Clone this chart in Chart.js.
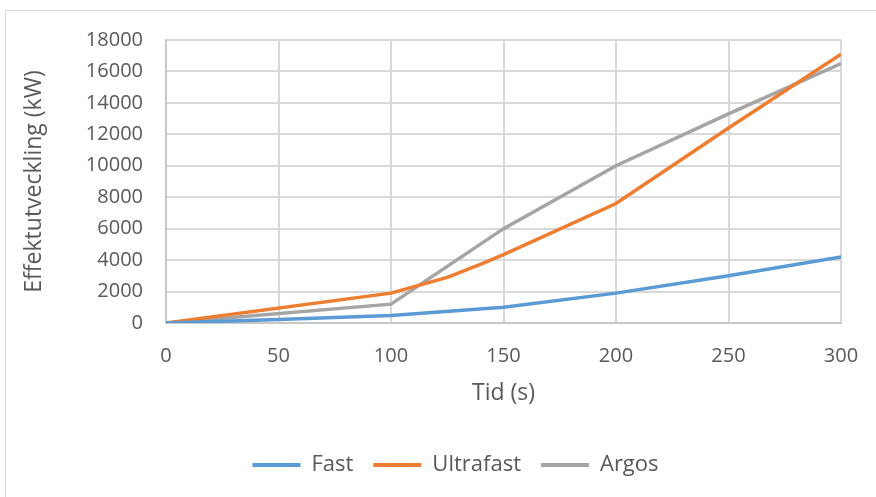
<!DOCTYPE html>
<html>
<head>
<meta charset="utf-8">
<script src="https://cdn.jsdelivr.net/npm/chart.js@4/dist/chart.umd.min.js"></script>
<style>
  html, body { margin: 0; padding: 0; background: #ffffff; }
  #wrap { width: 876px; height: 497px; position: relative; }
</style>
</head>
<body>
<div id="wrap"><canvas id="c" width="876" height="497"></canvas></div>
<script>
// Tid (s) och effektutveckling (kW) per brandförlopp
const fastTime = [0, 50, 100, 150, 200, 250, 300];
const fastPower = [0, 220, 480, 1000, 1900, 3000, 4200];

const ultrafastTime = [0, 100, 125, 140, 150, 200, 250, 300];
const ultrafastPower = [0, 1900, 2900, 3750, 4350, 7600, 12400, 17100];

const argosTime = [0, 100, 150, 200, 250, 300];
const argosPower = [0, 1200, 6000, 10000, 13300, 16500];

const xTicks = [0, 50, 100, 150, 200, 250, 300];
const yTicks = [0, 2000, 4000, 6000, 8000, 10000, 12000, 14000, 16000, 18000];

const seriesNames = ['Fast', 'Ultrafast', 'Argos'];
const seriesColors = ['#5B9BD5', '#ED7D31', '#A5A5A5'];

const toPoints = (xs, ys) => xs.map((x, i) => ({ x: x, y: ys[i] }));

const textColor = '#595959';
const fontFamily = '"Open Sans", "Noto Sans", sans-serif';

// Light outer frame around the whole chart
const framePlugin = {
  id: 'frame',
  beforeDraw(chart) {
    const ctx = chart.ctx;
    ctx.save();
    ctx.strokeStyle = '#d9d9d9';
    ctx.lineWidth = 1;
    ctx.strokeRect(5.5, 10.5, chart.width + 20, chart.height + 20);
    ctx.restore();
  }
};

const lineStyle = (i) => ({
  label: seriesNames[i],
  borderColor: seriesColors[i],
  backgroundColor: seriesColors[i],
  borderWidth: 3.5,
  pointRadius: 0,
  tension: 0,
  fill: false
});

new Chart(document.getElementById('c'), {
  type: 'line',
  data: {
    datasets: [
      Object.assign(lineStyle(0), { data: toPoints(fastTime, fastPower) }),
      Object.assign(lineStyle(1), { data: toPoints(ultrafastTime, ultrafastPower) }),
      Object.assign(lineStyle(2), { data: toPoints(argosTime, argosPower) })
    ]
  },
  options: {
    responsive: false,
    animation: false,
    devicePixelRatio: 1,
    layout: { padding: { top: 40, right: 35, left: 70, bottom: 11 } },
    plugins: {
      tooltip: { enabled: false },
      legend: {
        position: 'bottom',
        labels: {
          boxWidth: 48,
          boxHeight: 4,
          padding: 20,
          color: textColor,
          font: { family: fontFamily, size: 22 },
          generateLabels(chart) {
            return chart.data.datasets.map((ds, i) => ({
              text: ds.label,
              fillStyle: ds.borderColor,
              strokeStyle: ds.borderColor,
              lineWidth: 0,
              fontColor: textColor,
              datasetIndex: i,
              hidden: false
            }));
          }
        }
      }
    },
    scales: {
      x: {
        type: 'linear',
        min: 0,
        max: 300,
        afterBuildTicks(scale) { scale.ticks = xTicks.map(v => ({ value: v })); },
        afterFit(scale) {
          scale.height = 111;
          scale.paddingLeft = 0;
          scale.paddingRight = 0;
        },
        grid: { color: '#d9d9d9', lineWidth: 2, drawTicks: false },
        border: { color: '#c8c8c8', width: 2 },
        ticks: { color: textColor, padding: 21, font: { family: fontFamily, size: 20 }, maxRotation: 0 },
        title: {
          display: true,
          text: 'Tid (s)',
          color: textColor,
          font: { family: fontFamily, size: 23 },
          padding: { top: 0, bottom: 27 }
        }
      },
      y: {
        min: 0,
        max: 18000,
        afterBuildTicks(scale) { scale.ticks = yTicks.map(v => ({ value: v })); },
        afterFit(scale) { scale.width = 96; },
        grid: { color: '#d9d9d9', lineWidth: 2, drawTicks: false },
        border: { color: '#c8c8c8', width: 2 },
        ticks: {
          color: textColor,
          padding: 23,
          font: { family: fontFamily, size: 20 },
          callback: (v) => String(v)
        },
        title: {
          display: true,
          text: 'Effektutveckling (kW)',
          color: textColor,
          font: { family: fontFamily, size: 23 },
          padding: { top: -49, bottom: 0 }
        }
      }
    }
  },
  plugins: [framePlugin]
});
</script>
</body>
</html>
